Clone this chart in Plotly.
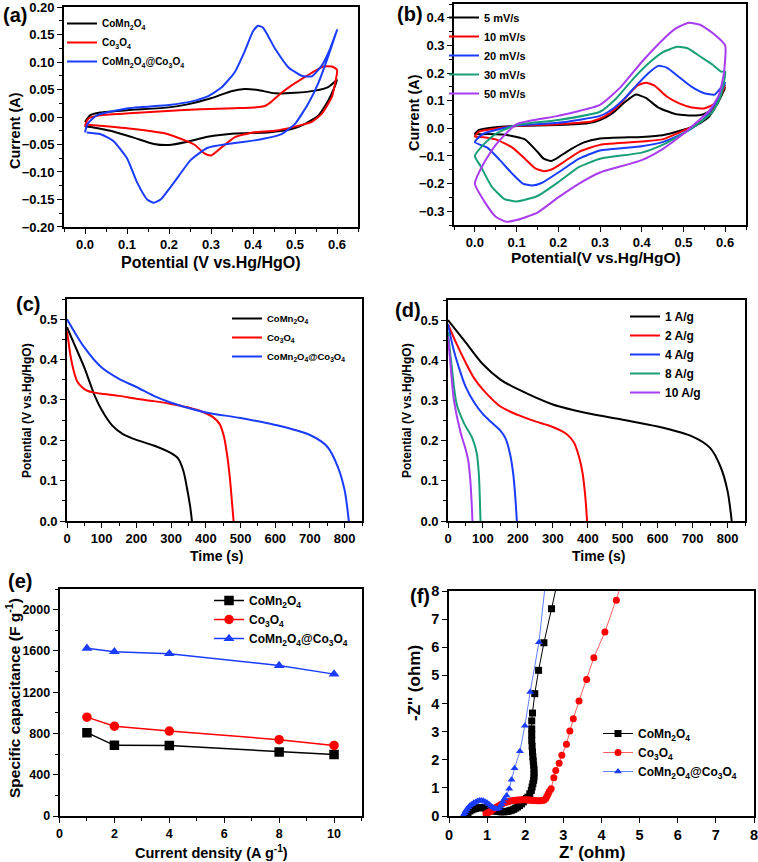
import plotly.graph_objects as go

W, H = 758, 862
FONT = "Liberation Sans, Arial, Helvetica, sans-serif"
BLACK, RED, BLUE, GREEN, PURPLE = "#000000", "#ff0000", "#1a3cff", "#17a078", "#a83cf0"

L_CMO = "CoMn<sub>2</sub>O<sub>4</sub>"
L_CO = "Co<sub>3</sub>O<sub>4</sub>"
L_COMP = "CoMn<sub>2</sub>O<sub>4</sub>@Co<sub>3</sub>O<sub>4</sub>"

# ---------------- (a) CV of three electrodes ----------------
a_cmo_v = [0, 0.012, 0.036, 0.1, 0.2, 0.244, 0.3, 0.348, 0.38, 0.412, 0.452, 0.5, 0.548, 0.58, 0.6,
           0.58, 0.556, 0.524, 0.492, 0.436, 0.356, 0.292, 0.244, 0.2, 0.164, 0.116, 0.06, 0.02, 0]
a_cmo_i = [-0.009, 0.003, 0.008, 0.0125, 0.0175, 0.023, 0.034, 0.047, 0.051, 0.049, 0.043, 0.044, 0.048, 0.055, 0.067,
           0.031, 0.003, -0.0125, -0.022, -0.028, -0.03, -0.036, -0.045, -0.051, -0.049, -0.0375, -0.025, -0.019, -0.0175]
a_co_v = [0, 0.008, 0.036, 0.116, 0.196, 0.276, 0.356, 0.404, 0.428, 0.444, 0.468, 0.492, 0.524, 0.548, 0.568, 0.588, 0.6,
          0.6, 0.588, 0.564, 0.54, 0.5, 0.452, 0.4, 0.356, 0.324, 0.3, 0.284, 0.26, 0.196, 0.116, 0.036, 0.004, 0]
a_co_i = [-0.016, -0.003, 0.003, 0.0075, 0.011, 0.014, 0.016, 0.0175, 0.02, 0.028, 0.044, 0.0575, 0.073, 0.084, 0.092, 0.092, 0.086,
          0.08, 0.037, 0.006, -0.009, -0.0175, -0.025, -0.028, -0.037, -0.056, -0.07, -0.066, -0.05, -0.031, -0.022, -0.016, -0.014, -0.016]
a_comp_v = [0, 0.006, 0.028, 0.1, 0.2, 0.252, 0.292, 0.324, 0.356, 0.38, 0.4, 0.412, 0.424, 0.452, 0.484, 0.516, 0.54, 0.564, 0.584, 0.6,
            0.58, 0.556, 0.532, 0.5, 0.468, 0.404, 0.34, 0.292, 0.252, 0.212, 0.18, 0.164, 0.148, 0.124, 0.1, 0.068, 0.036, 0.004]
a_comp_i = [-0.028, -0.0125, 0.003, 0.0156, 0.022, 0.028, 0.0375, 0.053, 0.081, 0.119, 0.156, 0.166, 0.1625, 0.125, 0.0906, 0.075, 0.074, 0.094, 0.125, 0.158,
            0.1125, 0.0625, 0.025, -0.0125, -0.031, -0.0425, -0.049, -0.056, -0.078, -0.119, -0.15, -0.156, -0.15, -0.119, -0.075, -0.044, -0.031, -0.028]

# ---------------- (b) CV at different scan rates ----------------
b_labels = ["5 mV/s", "10 mV/s", "20 mV/s", "30 mV/s", "50 mV/s"]
b5_v = [0, 0.01, 0.05, 0.1, 0.2, 0.27, 0.3, 0.33, 0.36, 0.386, 0.41, 0.44, 0.48, 0.52, 0.55, 0.575, 0.6,
        0.58, 0.56, 0.53, 0.5, 0.45, 0.4, 0.3, 0.26, 0.22, 0.2, 0.183, 0.165, 0.15, 0.12, 0.08, 0.03, 0]
b5_i = [-0.02, -0.006, 0.004, 0.008, 0.012, 0.018, 0.03, 0.055, 0.095, 0.122, 0.11, 0.075, 0.052, 0.046, 0.052, 0.075, 0.146,
        0.085, 0.04, 0.01, -0.005, -0.025, -0.031, -0.037, -0.052, -0.085, -0.105, -0.118, -0.11, -0.085, -0.04, -0.025, -0.021, -0.02]
b10_v = [0, 0.01, 0.1, 0.2, 0.28, 0.31, 0.34, 0.37, 0.39, 0.41, 0.43, 0.46, 0.49, 0.52, 0.55, 0.575, 0.6,
         0.58, 0.55, 0.52, 0.49, 0.45, 0.4, 0.3, 0.25, 0.21, 0.185, 0.165, 0.145, 0.12, 0.09, 0.05, 0.02, 0]
b10_i = [-0.03, -0.012, 0.008, 0.015, 0.025, 0.042, 0.075, 0.125, 0.155, 0.165, 0.155, 0.115, 0.09, 0.075, 0.072, 0.09, 0.155,
         0.09, 0.035, 0.005, -0.015, -0.04, -0.048, -0.06, -0.085, -0.125, -0.148, -0.155, -0.145, -0.11, -0.07, -0.04, -0.032, -0.03]
b20_v = [0, 0.02, 0.1, 0.2, 0.3, 0.33, 0.36, 0.39, 0.42, 0.44, 0.46, 0.49, 0.52, 0.55, 0.575, 0.6,
         0.58, 0.55, 0.52, 0.49, 0.45, 0.4, 0.3, 0.25, 0.2, 0.16, 0.137, 0.115, 0.09, 0.06, 0.03, 0]
b20_i = [-0.05, -0.02, 0.01, 0.02, 0.045, 0.07, 0.11, 0.16, 0.205, 0.226, 0.22, 0.185, 0.15, 0.127, 0.122, 0.165,
         0.1, 0.035, 0.0, -0.025, -0.05, -0.065, -0.08, -0.11, -0.16, -0.198, -0.207, -0.2, -0.165, -0.115, -0.07, -0.05]
b30_v = [0, 0.02, 0.05, 0.1, 0.2, 0.3, 0.34, 0.38, 0.42, 0.45, 0.485, 0.51, 0.54, 0.57, 0.59, 0.6,
         0.59, 0.57, 0.53, 0.5, 0.45, 0.4, 0.3, 0.25, 0.2, 0.15, 0.1, 0.07, 0.04, 0.015, 0]
b30_i = [-0.1, -0.06, -0.02, 0.012, 0.03, 0.06, 0.11, 0.18, 0.24, 0.275, 0.295, 0.29, 0.26, 0.23, 0.205, 0.205,
         0.12, 0.06, 0.01, -0.018, -0.06, -0.088, -0.11, -0.14, -0.195, -0.245, -0.265, -0.255, -0.21, -0.14, -0.1]
b50_v = [0, 0.02, 0.05, 0.1, 0.2, 0.3, 0.35, 0.4, 0.45, 0.48, 0.513, 0.54, 0.57, 0.6,
         0.597, 0.585, 0.56, 0.53, 0.5, 0.45, 0.4, 0.3, 0.25, 0.2, 0.15, 0.1, 0.075, 0.05, 0.025, 0]
b50_i = [-0.2, -0.13, -0.06, 0.015, 0.045, 0.085, 0.15, 0.24, 0.32, 0.36, 0.382, 0.375, 0.345, 0.3,
         0.2, 0.12, 0.06, 0.02, -0.02, -0.075, -0.115, -0.16, -0.2, -0.25, -0.305, -0.332, -0.338, -0.32, -0.27, -0.2]

# ---------------- (c) GCD of three electrodes ----------------
c_cmo_t = [0, 20, 50, 80, 100, 130, 160, 200, 250, 300, 320, 335, 345, 355, 360]
c_cmo_v = [0.48, 0.44, 0.38, 0.31, 0.275, 0.237, 0.216, 0.201, 0.187, 0.168, 0.155, 0.125, 0.085, 0.035, 0.0]
c_co_t = [0, 5, 10, 20, 30, 45, 60, 80, 100, 150, 200, 250, 300, 350, 400, 420, 440, 452, 462, 470, 476, 480]
c_co_v = [0.47, 0.44, 0.41, 0.37, 0.345, 0.33, 0.322, 0.318, 0.315, 0.31, 0.303, 0.297, 0.29, 0.281, 0.267, 0.258, 0.24, 0.21, 0.16, 0.1, 0.04, 0.0]
c_comp_t = [0, 50, 100, 150, 200, 250, 300, 350, 400, 500, 600, 700, 750, 780, 800, 812]
c_comp_v = [0.5, 0.43, 0.38, 0.352, 0.332, 0.31, 0.293, 0.28, 0.269, 0.255, 0.238, 0.213, 0.184, 0.135, 0.076, 0.0]

# ---------------- (d) GCD at different current densities ----------------
d_labels = ["1 A/g", "2 A/g", "4 A/g", "8 A/g", "10 A/g"]
d1_t = [0, 50, 100, 150, 200, 300, 400, 500, 600, 700, 750, 780, 800, 812]
d1_v = [0.5, 0.445, 0.39, 0.352, 0.328, 0.29, 0.268, 0.252, 0.235, 0.21, 0.182, 0.135, 0.075, 0.0]
d2_t = [0, 25, 50, 75, 100, 150, 200, 250, 300, 340, 360, 375, 385, 393, 398]
d2_v = [0.49, 0.44, 0.395, 0.355, 0.327, 0.285, 0.264, 0.248, 0.234, 0.216, 0.196, 0.16, 0.12, 0.06, 0.0]
d4_t = [0, 15, 30, 50, 75, 100, 125, 150, 165, 178, 187, 193, 197]
d4_v = [0.49, 0.43, 0.385, 0.335, 0.295, 0.266, 0.245, 0.225, 0.205, 0.165, 0.115, 0.055, 0.0]
d8_t = [0, 10, 25, 45, 70, 82, 88, 91, 93]
d8_v = [0.47, 0.39, 0.29, 0.245, 0.205, 0.17, 0.12, 0.06, 0.0]
d10_t = [0, 8, 17, 36, 50, 58, 64, 68, 70]
d10_v = [0.46, 0.38, 0.3, 0.22, 0.18, 0.15, 0.1, 0.04, 0.0]

# ---------------- (e) specific capacitance ----------------
e_current = [1, 2, 4, 8, 10]
e_cmo = [808, 685, 683, 620, 595]
e_co = [958, 870, 823, 740, 684]
e_comp = [1625, 1592, 1573, 1458, 1375]

# ---------------- (f) Nyquist plots ----------------
f_cmo_x = [0.45, 0.5, 0.55, 0.6, 0.65, 0.7, 0.75, 0.8, 0.85, 0.9, 0.95, 1.0, 1.05, 1.1, 1.15, 1.2, 1.25, 1.3, 1.35, 1.4,
           1.45, 1.5, 1.55, 1.6, 1.65, 1.7, 1.75, 1.8, 1.85, 1.9, 1.95, 1.99, 2.03, 2.07, 2.12, 2.16, 2.18, 2.2, 2.22, 2.23,
           2.23, 2.23, 2.22, 2.21, 2.2, 2.19, 2.18, 2.17, 2.17, 2.17, 2.17, 2.19, 2.25, 2.35, 2.49, 2.69, 2.84]
f_cmo_y = [0.04, 0.12, 0.18, 0.22, 0.25, 0.27, 0.29, 0.3, 0.3, 0.29, 0.28, 0.26, 0.24, 0.22, 0.2, 0.18, 0.17, 0.16, 0.15, 0.15,
           0.15, 0.16, 0.17, 0.19, 0.21, 0.24, 0.28, 0.32, 0.37, 0.43, 0.5, 0.57, 0.62, 0.67, 0.79, 0.91, 1.03, 1.15, 1.27, 1.39,
           1.52, 1.66, 1.8, 1.95, 2.1, 2.27, 2.48, 2.69, 2.9, 3.1, 3.38, 3.66, 4.35, 5.18, 6.16, 7.37, 8.3]
f_co_x = [0.97, 1.0, 1.04, 1.08, 1.12, 1.16, 1.2, 1.25, 1.3, 1.35, 1.4, 1.45, 1.5, 1.55, 1.6, 1.65, 1.7, 1.75, 1.8, 1.85,
          1.9, 1.95, 2.0, 2.05, 2.1, 2.15, 2.2, 2.25, 2.3, 2.35, 2.4, 2.45, 2.5, 2.54, 2.57, 2.6, 2.63, 2.68, 2.75, 2.8,
          2.89, 2.96, 3.08, 3.17, 3.26, 3.41, 3.61, 3.8, 4.09, 4.39, 4.55]
f_co_y = [0.08, 0.1, 0.13, 0.16, 0.2, 0.24, 0.28, 0.32, 0.36, 0.4, 0.44, 0.47, 0.49, 0.51, 0.53, 0.54, 0.55, 0.56, 0.57, 0.57,
          0.58, 0.58, 0.58, 0.57, 0.57, 0.56, 0.55, 0.55, 0.54, 0.54, 0.54, 0.55, 0.57, 0.62, 0.7, 0.78, 0.87, 0.97, 1.36, 1.62,
          1.88, 2.16, 2.55, 3.02, 3.46, 4.09, 4.85, 5.63, 6.54, 7.67, 8.35]
f_comp_x = [0.38, 0.41, 0.44, 0.47, 0.51, 0.55, 0.6, 0.65, 0.7, 0.75, 0.8, 0.85, 0.9, 0.95, 1.0, 1.05, 1.1, 1.15, 1.2, 1.25,
            1.3, 1.34, 1.38, 1.42, 1.46, 1.51, 1.58, 1.64, 1.72, 1.86, 1.99, 2.13, 2.36, 2.53]
f_comp_y = [0.03, 0.1, 0.17, 0.24, 0.31, 0.37, 0.42, 0.47, 0.5, 0.53, 0.55, 0.55, 0.54, 0.51, 0.47, 0.42, 0.36, 0.31, 0.27, 0.25,
            0.28, 0.34, 0.42, 0.52, 0.62, 0.73, 0.97, 1.29, 1.7, 2.3, 3.21, 4.41, 6.18, 8.3]

fig = go.Figure()


def line(x, y, name, color, ax, leg, smooth=0.5):
    fig.add_trace(go.Scatter(x=x, y=y, name=name, mode="lines", xaxis="x" + ax, yaxis="y" + ax,
                             legend=leg, line=dict(color=color, width=2.0, shape="spline", smoothing=smooth)))


# (a)
line(a_cmo_v, a_cmo_i, L_CMO, BLACK, "", "legend")
line(a_co_v, a_co_i, L_CO, RED, "", "legend")
line(a_comp_v, a_comp_i, L_COMP, BLUE, "", "legend")
# (b)
for (v, i), lab, col in zip([(b5_v, b5_i), (b10_v, b10_i), (b20_v, b20_i), (b30_v, b30_i), (b50_v, b50_i)],
                            b_labels, [BLACK, RED, BLUE, GREEN, PURPLE]):
    line(v, i, lab, col, "2", "legend2")
# (c)
line(c_cmo_t, c_cmo_v, L_CMO, BLACK, "3", "legend3", 0.8)
line(c_co_t, c_co_v, L_CO, RED, "3", "legend3", 0.8)
line(c_comp_t, c_comp_v, L_COMP, BLUE, "3", "legend3", 0.8)
# (d)
for (t, v), lab, col in zip([(d1_t, d1_v), (d2_t, d2_v), (d4_t, d4_v), (d8_t, d8_v), (d10_t, d10_v)],
                            d_labels, [BLACK, RED, BLUE, GREEN, PURPLE]):
    line(t, v, lab, col, "4", "legend4", 0.8)
# (e)
for ys, lab, col, sym in [(e_cmo, L_CMO, BLACK, "square"), (e_co, L_CO, RED, "circle"),
                          (e_comp, L_COMP, BLUE, "triangle-up")]:
    fig.add_trace(go.Scatter(x=e_current, y=ys, name=lab, mode="lines+markers", xaxis="x5", yaxis="y5",
                             legend="legend5", line=dict(color=col, width=1.5),
                             marker=dict(symbol=sym, size=9.5, color=col)))
# (f)
for xs, ys, lab, col, lcol, sym in [(f_cmo_x, f_cmo_y, L_CMO, BLACK, BLACK, "square"),
                                    (f_co_x, f_co_y, L_CO, RED, "#ff6060", "circle"),
                                    (f_comp_x, f_comp_y, L_COMP, BLUE, "#6080ff", "triangle-up")]:
    fig.add_trace(go.Scatter(x=xs, y=ys, name=lab, mode="lines+markers", xaxis="x6", yaxis="y6",
                             legend="legend6", line=dict(color=lcol, width=1),
                             marker=dict(symbol=sym, size=7, color=col)))

# ---------------- layout ----------------
def xd(x0, x1):
    return [x0 / W, x1 / W]


def yd(y0, y1):
    return [1 - y1 / H, 1 - y0 / H]


def axis(dom, rng, dtick, minor, fmt, size, anchor, tick0=0):
    return dict(domain=dom, range=rng, dtick=dtick, tick0=tick0, tickformat=fmt, anchor=anchor,
                showline=True, linecolor="black", linewidth=1.6, mirror=True,
                ticks="outside", ticklen=5, tickwidth=1.3, tickcolor="black",
                showgrid=False, zeroline=False, automargin=False, ticklabeloverflow="allow",
                minor=dict(ticks="outside", ticklen=3, tickwidth=1.1, tickcolor="black", dtick=minor, tick0=tick0, showgrid=False)
                if minor else dict(ticks=""),
                tickfont=dict(family=FONT, size=size, color="black", weight="bold"))


layout = dict(
    width=W, height=H, margin=dict(l=0, r=0, t=0, b=0, pad=0, autoexpand=False),
    paper_bgcolor="white", plot_bgcolor="white",
    font=dict(family=FONT, color="black"),
    xaxis=axis(xd(64, 358), [-0.05, 0.65], 0.1, 0.05, ".1f", 13, "y"),
    yaxis=axis(yd(7, 227), [-0.2001, 0.2001], 0.05, 0.025, ".2f", 13, "x"),
    xaxis2=axis(xd(454, 746), [-0.05, 0.65], 0.1, 0.05, ".1f", 13, "y2"),
    yaxis2=axis(yd(4, 225), [-0.35, 0.45], 0.1, 0.05, ".1f", 13, "x2"),
    xaxis3=axis(xd(67, 362), [0, 850], 100, 50, "d", 13, "y3"),
    yaxis3=axis(yd(299, 521), [0, 0.55], 0.1, 0.05, ".1f", 13, "x3"),
    xaxis4=axis(xd(448, 745), [0, 850], 100, 50, "d", 13, "y4"),
    yaxis4=axis(yd(300, 521), [0, 0.55], 0.1, 0.05, ".1f", 13, "x4"),
    xaxis5=axis(xd(59.5, 361.5), [0, 11], 2, 1, "d", 12.5, "y5"),
    yaxis5=axis(yd(589, 816), [0, 2200], 400, 200, "d", 12.5, "x5"),
    xaxis6=axis(xd(449, 754), [0, 8.0001], 1, None, "d", 14.5, "y6"),
    yaxis6=axis(yd(591, 816), [0, 8.0001], 1, None, "d", 14.5, "x6"),
    showlegend=True,
)


def leg(x, y, size):
    return dict(x=x / W, y=1 - y / H, xanchor="left", yanchor="top", bgcolor="rgba(0,0,0,0)",
                borderwidth=0, itemwidth=30, tracegroupgap=0,
                font=dict(family=FONT, size=size, color="black", weight="bold"))


layout.update(
    legend=leg(62, 9, 10),
    legend2=leg(444, 3, 11),
    legend3=leg(227, 304, 9.5),
    legend4=leg(625, 302, 12),
    legend5=leg(209, 586, 12),
    legend6=leg(598, 719, 12),
)


def ann(text, x, y, size, angle=0):
    return dict(text="<b>" + text + "</b>", x=x / W, y=1 - y / H, xref="paper", yref="paper",
                showarrow=False, xanchor="center", yanchor="middle", textangle=angle,
                font=dict(family=FONT, size=size, color="black"))


annotations = [
    ann("(a)", 15, 15, 20), ann("(b)", 410, 14, 20), ann("(c)", 28, 304, 20),
    ann("(d)", 408, 310, 20), ann("(e)", 20, 581, 20), ann("(f)", 420, 596, 20),
    ann("Potential (V vs.Hg/HgO)", 211, 263, 16), ann("Current (A)", 15, 131, 14.5, -90),
    ann("Potential(V vs.Hg/HgO)", 596, 257, 15.5), ann("Current (A)", 414, 113, 14.5, -90),
    ann("Time (s)", 216, 556, 14), ann("Potential (V vs.Hg/HgO)", 27, 411, 12, -90),
    ann("Time (s)", 598, 556, 14), ann("Potential (V vs.Hg/HgO)", 407, 411, 12, -90),
    ann("Current density (A g<sup>-1</sup>)", 211, 852, 14.5), ann("Specific capacitance (F g<sup>-1</sup>)", 13, 698, 15.5, -90),
    ann("Z' (ohm)", 592, 852, 17), ann("-Z'' (ohm)", 414, 683, 17, -90),
]
layout["annotations"] = annotations
fig.update_layout(**layout)
fig.write_html("out.html")
